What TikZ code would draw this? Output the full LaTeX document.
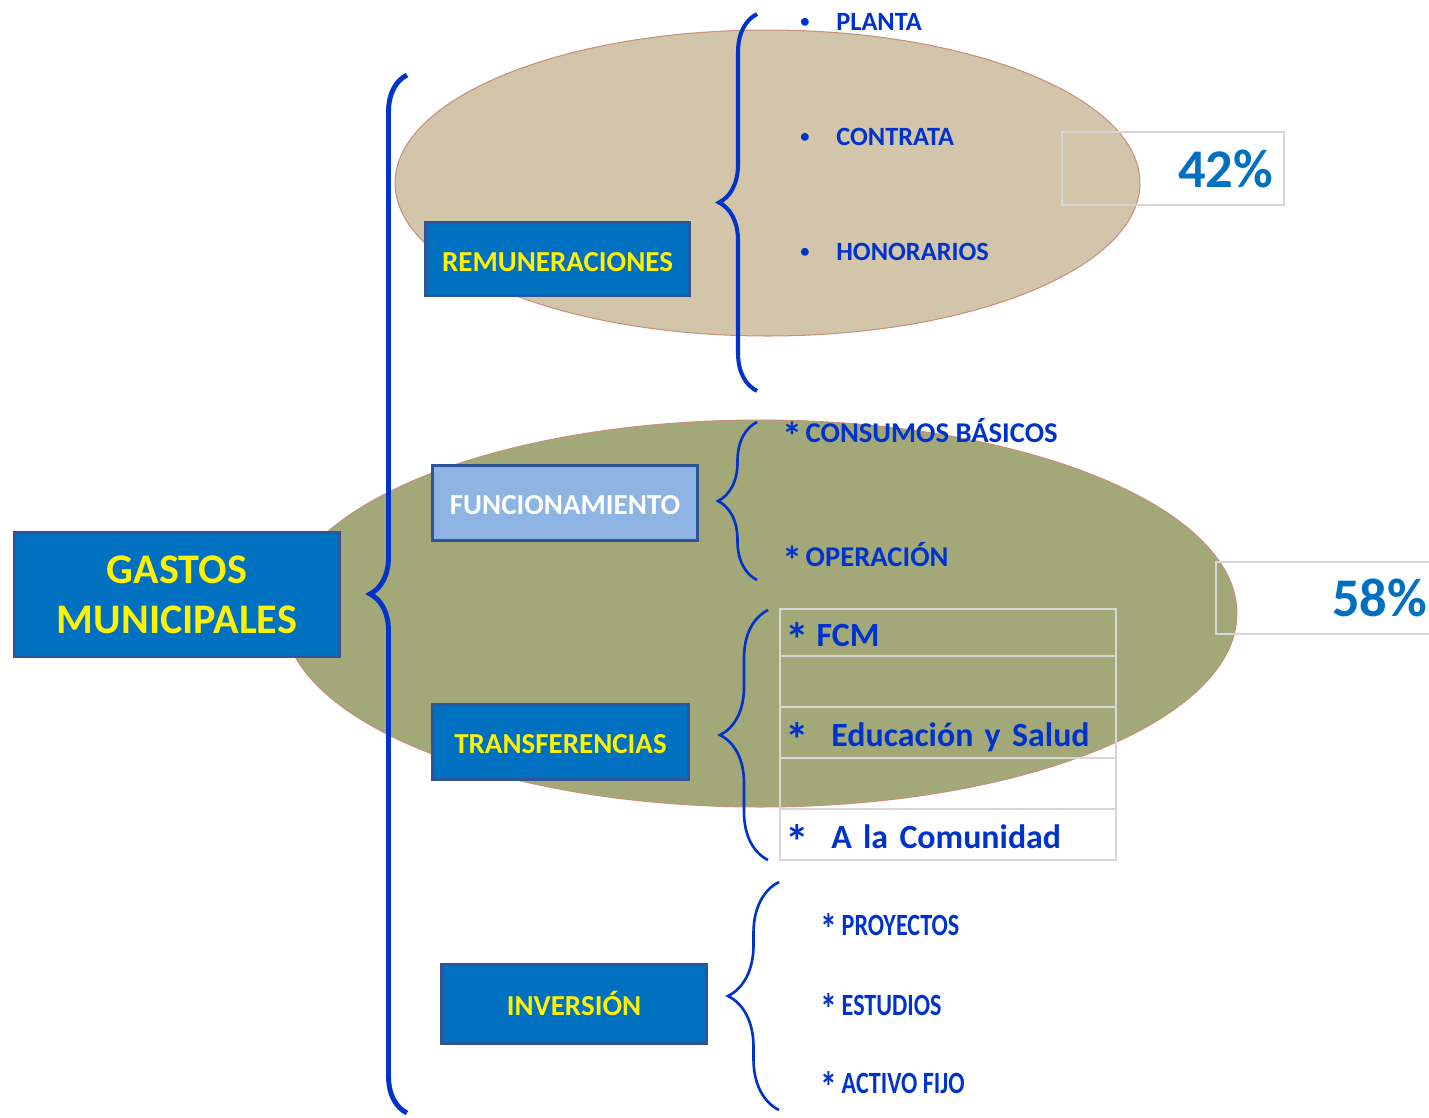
\documentclass[tikz,border=0pt]{standalone}
\usepackage{fontspec}
\setmainfont{Carlito}
\newfontfamily\narrowfont{Carlito}[FakeStretch=0.78]
\usetikzlibrary{positioning,decorations.pathreplacing}

\definecolor{BraceBlue}{HTML}{0033CC}
\definecolor{BoxBlue}{HTML}{0070C0}
\definecolor{BoxEdge}{HTML}{2F5597}
\definecolor{LightBox}{HTML}{8EB4E3}
\definecolor{Tan}{HTML}{D3C5A9}
\definecolor{Olive}{HTML}{A3A878}
\definecolor{Rim}{HTML}{C8907C}
\definecolor{Frame}{HTML}{D6D6D6}

\newcommand{\Dot}{\makebox[0.72cm][l]{\raisebox{0.08em}{\scalebox{0.7}{\textbullet}}}}
\newcommand{\Astk}{\makebox[0.45em][c]{\raisebox{-0.3em}{\scalebox{1.4}{*}}}}

\tikzstyle{Head} = [draw=BoxEdge, line width=1.7pt, fill=BoxBlue,
                    rectangle, text=yellow, inner sep=0pt,
                    text height=14pt, text depth=0pt,
                    font=\bfseries\fontsize{16.5}{19}\selectfont]
\tikzstyle{Item} = [anchor=base west, inner sep=0pt, text=BraceBlue,
                    font=\bfseries\fontsize{15}{18}\selectfont]
\tikzstyle{Light} = [font=\bfseries\fontsize{16.3}{18}\selectfont]
\tikzstyle{Narrow} = [font=\narrowfont\bfseries\fontsize{17.6}{20}\selectfont]
\tikzstyle{Brace} = [decorate, draw=BraceBlue, line width=1.5pt]
\tikzstyle{Cell} = [draw=Frame, line width=1.2pt, rectangle,
                    outer sep=0pt, inner xsep=0.2cm, inner ysep=0pt,
                    text width=6.32cm, align=left, minimum height=1.02cm,
                    text height=15.8pt, text depth=0pt, text=BraceBlue,
                    font=\bfseries\fontsize{19.3}{22}\selectfont]
\tikzstyle{Pct} = [draw=Frame, line width=1.2pt, rectangle,
                   align=right, text=BoxBlue,
                   font=\bfseries\fontsize{31}{34}\selectfont]

\begin{document}
\begin{tikzpicture}[x=0.02cm, y=-0.02cm]

    \useasboundingbox (0,0) rectangle (1429,1117);

    % Ellipses
    \draw [fill=Tan, draw=Rim, line width=0.6pt] (767.5,183) ellipse [x radius=7.45cm, y radius=3.06cm];
    \draw [fill=Olive, draw=Rim, line width=0.6pt] (760,613.5) ellipse [x radius=9.54cm, y radius=3.87cm];

    % Percentages
    \node (pcttop) at (1173,168.5) [Pct, minimum width=4.44cm, minimum height=1.46cm, text width=4.0cm, inner xsep=0.22cm]{42\%};
    \node (pctlow) at (1326,598) [Pct, minimum width=4.4cm, minimum height=1.44cm, text width=4.04cm, inner xsep=0.18cm]{58\%};

    % Main nodes
    \node (gastos) at (177,594.5) [Head, minimum width=6.52cm, minimum height=2.5cm, align=center, text height=, text depth=,
        font=\bfseries\fontsize{24}{28.4}\selectfont]{GASTOS\\MUNICIPALES};
    \node (remun) at (557.5,259) [Head, minimum width=5.3cm, minimum height=1.48cm]{REMUNERACIONES};
    \node (func) at (565,502.5) [Head, fill=LightBox, text=white, minimum width=5.32cm, minimum height=1.5cm]{FUNCIONAMIENTO};
    \node (transf) at (560.5,741.5) [Head, minimum width=5.14cm, minimum height=1.5cm]{TRANSFERENCIAS};
    \node (inv) at (574,1003.5) [Head, minimum width=5.32cm, minimum height=1.58cm]{INVERSIÓN};

    % Remuneraciones items
    \node (planta) at (800,30) [Item]{\Dot PLANTA};
    \node (contrata) at (800,145) [Item]{\Dot CONTRATA};
    \node (honor) at (800,260) [Item]{\Dot HONORARIOS};

    % Funcionamiento items
    \node (consumos) at (786,442) [Item, Light]{\Astk{} CONSUMOS BÁSICOS};
    \node (operacion) at (786,566) [Item, Light]{\Astk{} OPERACIÓN};

    % Transferencias table
    \node (fcm) at (948,609) [Cell, anchor=north, minimum height=0.94cm]{\Astk{} FCM};
    \node (gapa) [Cell, below=0pt of fcm]{};
    \node (edu) [Cell, below=0pt of gapa]{\Astk\hspace{0.52cm}Educación y Salud};
    \node (gapb) [Cell, below=0pt of edu]{};
    \node (comun) [Cell, below=0pt of gapb]{\Astk\hspace{0.52cm}A la Comunidad};

    % Inversion items
    \node (proyectos) at (822,935) [Item, Narrow]{\Astk{} PROYECTOS};
    \node (estudios) at (822,1015) [Item, Narrow]{\Astk{} ESTUDIOS};
    \node (activo) at (822,1093) [Item, Narrow]{\Astk{} ACTIVO FIJO};

    % Braces
    \coordinate (maintop) at (407,75);
    \coordinate (mainbot) at (407,1113);
    \coordinate (remuntop) at (757,14);
    \coordinate (remunbot) at (757,391);
    \coordinate (functop) at (757,422);
    \coordinate (funcbot) at (757,580);
    \coordinate (transftop) at (768,610);
    \coordinate (transfbot) at (768,860);
    \coordinate (invtop) at (779,882);
    \coordinate (invbot) at (779,1110);

    \draw [Brace, line width=2.8pt, decoration={brace, amplitude=0.74cm}] (mainbot) -- (maintop);
    \draw [Brace, line width=2.3pt, decoration={brace, amplitude=0.76cm}] (remunbot) -- (remuntop);
    \draw [Brace, decoration={brace, amplitude=0.78cm}] (funcbot) -- (functop);
    \draw [Brace, decoration={brace, amplitude=0.96cm}] (transfbot) -- (transftop);
    \draw [Brace, decoration={brace, amplitude=1.02cm}] (invbot) -- (invtop);

\end{tikzpicture}
\end{document}
